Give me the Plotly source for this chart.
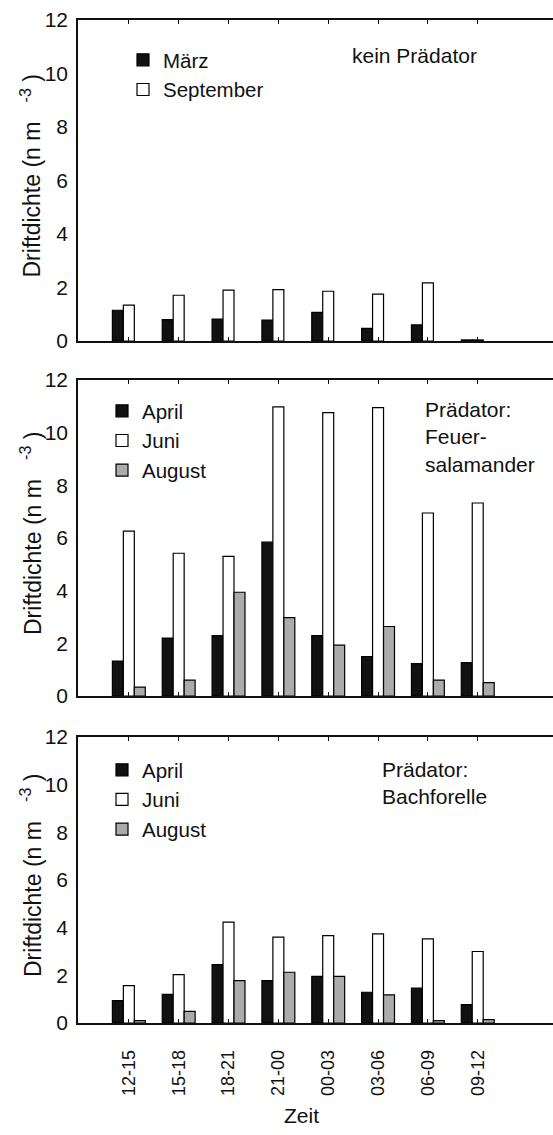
import plotly.graph_objects as go
from plotly.subplots import make_subplots

zeit = ["12-15", "15-18", "18-21", "21-00", "00-03", "03-06", "06-09", "09-12"]

# Panel 1: kein Prädator
maerz = [1.15, 0.80, 0.82, 0.78, 1.07, 0.47, 0.60, 0.04]
september = [1.34, 1.71, 1.90, 1.92, 1.86, 1.75, 2.17, 0.04]

# Panel 2: Prädator Feuersalamander
april_fs = [1.33, 2.20, 2.29, 5.84, 2.29, 1.50, 1.23, 1.27]
juni_fs = [6.26, 5.42, 5.30, 10.98, 10.76, 10.95, 6.95, 7.33]
august_fs = [0.34, 0.60, 3.94, 2.98, 1.93, 2.64, 0.60, 0.51]

# Panel 3: Prädator Bachforelle
april_bf = [0.94, 1.20, 2.45, 1.78, 1.96, 1.29, 1.46, 0.77]
juni_bf = [1.57, 2.03, 4.23, 3.60, 3.67, 3.74, 3.53, 3.00]
august_bf = [0.10, 0.49, 1.78, 2.13, 1.96, 1.18, 0.10, 0.14]

y_ticks = [0, 2, 4, 6, 8, 10, 12]
y_title = "Driftdichte (n m&nbsp;&nbsp;&nbsp;<sup>-3</sup>&nbsp;)"

FONT = "Arial, Liberation Sans, sans-serif"
W, H = 553, 1135
ML, MB, MT = 78, 112, 20
PH = H - MB - MT


def ydom(top_px, bot_px):
    return [(H - MB - bot_px) / PH, (H - MB - top_px) / PH]


def px_x(px):
    return (px - ML) / (W - ML)


def px_y(py):
    return (H - MB - py) / PH


fig = make_subplots(rows=3, cols=1)

BW = 0.22
offsets = [-0.33, -0.11, 0.11]
black = dict(color="#111111", line=dict(color="#000000", width=1.2))
white = dict(color="#ffffff", line=dict(color="#000000", width=1.2))
grey = dict(color="#ababab", line=dict(color="#000000", width=1.2))

panels = [
    (1, "legend", [("März", maerz, black), ("September", september, white)]),
    (2, "legend2", [("April", april_fs, black), ("Juni", juni_fs, white), ("August", august_fs, grey)]),
    (3, "legend3", [("April", april_bf, black), ("Juni", juni_bf, white), ("August", august_bf, grey)]),
]

for row, leg, series in panels:
    for i, (name, vals, mk) in enumerate(series):
        fig.add_trace(
            go.Bar(x=zeit, y=vals, name=name, marker=mk, width=BW, offset=offsets[i],
                   legend=leg, showlegend=True),
            row=row, col=1,
        )

panel_px = [(20, 341), (380, 696), (737, 1023)]
doms = [ydom(t, b) for t, b in panel_px]
axis_font = dict(family=FONT, size=21, color="#111111")

for r in range(1, 4):
    xa = "xaxis" if r == 1 else f"xaxis{r}"
    ya = "yaxis" if r == 1 else f"yaxis{r}"
    fig.layout[xa].update(
        type="category", range=[-1.02, 8.51], domain=[0, 1],
        showline=True, linecolor="#111111", linewidth=1.5, mirror="ticks",
        ticks="inside", ticklen=4, tickcolor="#111111",
        showgrid=False, zeroline=False,
        showticklabels=(r == 3), tickangle=-90,
        tickfont=dict(family=FONT, size=18, color="#111111"),
        ticklabelstandoff=18, automargin=False,
    )
    fig.layout[ya].update(
        domain=doms[r - 1], range=[0, 12], tickvals=y_ticks,
        showline=True, linecolor="#111111", linewidth=1.5,
        ticks="", showgrid=False, zeroline=False,
        tickfont=axis_font, ticklabelstandoff=4, automargin=False,
    )

title_font = dict(family=FONT, size=23, color="#111111")
for (t, b) in panel_px:
    fig.add_annotation(x=px_x(31), y=px_y((t + b) / 2 - 4), xref="paper", yref="paper",
                       text=y_title, textangle=-90, showarrow=False,
                       xanchor="center", yanchor="middle", font=title_font)

leg_common = dict(font=dict(family=FONT, size=20.5, color="#111111"), bgcolor="rgba(0,0,0,0)",
                  xanchor="left", yanchor="top", tracegroupgap=0, itemwidth=30, traceorder="normal")
fig.update_layout(
    legend=dict(x=px_x(123), y=px_y(40), **leg_common),
    legend2=dict(x=px_x(102), y=px_y(391), **leg_common),
    legend3=dict(x=px_x(102), y=px_y(750), **leg_common),
)

ann_font = dict(family=FONT, size=21, color="#111111")
fig.add_annotation(x=px_x(350), y=px_y(55), xref="paper", yref="paper", text="kein Prädator",
                   showarrow=False, xanchor="left", yanchor="middle", font=ann_font)
fig.add_annotation(x=px_x(423), y=px_y(396), xref="paper", yref="paper",
                   text="Prädator:<br>Feuer-<br>salamander", align="left",
                   showarrow=False, xanchor="left", yanchor="top", font=ann_font)
fig.add_annotation(x=px_x(380), y=px_y(756), xref="paper", yref="paper",
                   text="Prädator:<br>Bachforelle", align="left",
                   showarrow=False, xanchor="left", yanchor="top", font=ann_font)
fig.add_annotation(x=3.47, y=px_y(1115), xref="x3", yref="paper", text="Zeit",
                   showarrow=False, xanchor="center", yanchor="middle", font=ann_font)

fig.update_layout(
    width=W, height=H, barmode="overlay",
    margin=dict(l=ML, r=0, t=MT, b=MB),
    paper_bgcolor="#ffffff", plot_bgcolor="#ffffff",
    font=dict(family=FONT, color="#111111"),
)

fig.write_html("out.html", config={"displayModeBar": False},
               post_script="document.body.style.margin='0px';")
